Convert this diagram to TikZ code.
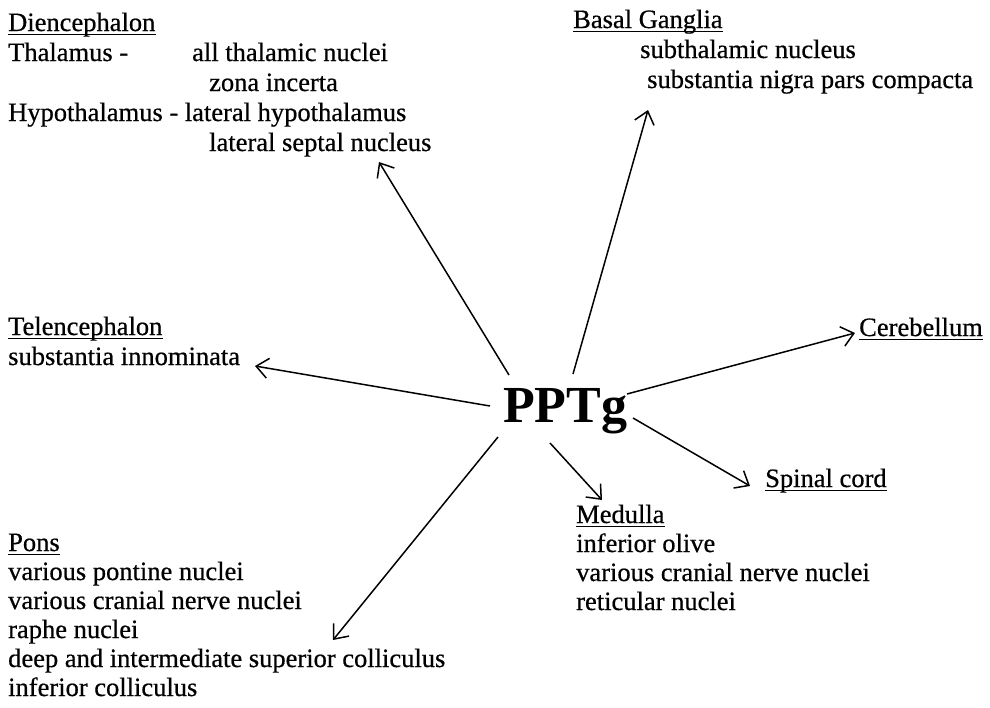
\documentclass[tikz,border=0pt]{standalone}
\usepackage{fontspec}
\setmainfont{Liberation Serif}
\newfontfamily\scanfont{Liberation Serif}[FakeBold=0.6]
\usetikzlibrary{arrows.meta}
\tikzset{
  txt/.style={anchor=base west, inner sep=0pt, font=\scanfont\fontsize{26.5}{30}\selectfont},
  big/.style={anchor=base west, inner sep=0pt, font=\fontsize{52}{60}\selectfont\bfseries},
  ul/.style={line width=1.5pt},
  arr/.style={line width=1.5pt, -{Straight Barb[length=12pt,width=20pt,line width=1.5pt]}}
}
\newcommand{\uline}[1]{\draw[ul] ([yshift=-3.5pt]#1.base west) -- ([yshift=-3.5pt]#1.base east);}
\begin{document}
\begin{tikzpicture}[x=1pt,y=-1pt]
\useasboundingbox (0,0) rectangle (990,707);
% centre
\node[big] (ppt) at (503,422) {PPTg};
% Diencephalon
\node[txt] (dh) at (8,31) {Diencephalon};
\node[txt] (d1) at (8,61) {Thalamus -};
\node[txt] (d2) at (192,61) {all thalamic nuclei};
\node[txt] (d3) at (209,91) {zona incerta};
\node[txt] (d4) at (8,121) {Hypothalamus - lateral hypothalamus};
\node[txt] (d5) at (209,151) {lateral septal nucleus};
\uline{dh}
% Basal Ganglia
\node[txt] (bh) at (573,28) {Basal Ganglia};
\node[txt] (b1) at (640,58) {subthalamic nucleus};
\node[txt] (b2) at (647,88) {substantia nigra pars compacta};
\uline{bh}
% Telencephalon
\node[txt] (th) at (8,335) {Telencephalon};
\node[txt] (t1) at (8,365) {substantia innominata};
\uline{th}
% Cerebellum
\node[txt] (ch) at (859,336) {Cerebellum};
\uline{ch}
% Spinal cord
\node[txt] (sh) at (765,487) {Spinal cord};
\uline{sh}
% Medulla
\node[txt] (mh) at (576,523) {Medulla};
\node[txt] (m1) at (576,552) {inferior olive};
\node[txt] (m2) at (576,581) {various cranial nerve nuclei};
\node[txt] (m3) at (576,610) {reticular nuclei};
\uline{mh}
% Pons
\node[txt] (ph) at (8,551) {Pons};
\node[txt] (p1) at (8,580) {various pontine nuclei};
\node[txt] (p2) at (8,609) {various cranial nerve nuclei};
\node[txt] (p3) at (8,638) {raphe nuclei};
\node[txt] (p4) at (8,667) {deep and intermediate superior colliculus};
\node[txt] (p5) at (8,696) {inferior colliculus};
\uline{ph}
% arrow ends
\coordinate (dS) at (509,375); \coordinate (dT) at (379,162);
\coordinate (bS) at (573,374); \coordinate (bT) at (648,110);
\coordinate (tS) at (490,406); \coordinate (tT) at (255,366);
\coordinate (cS) at (627,394); \coordinate (cT) at (855,333);
\coordinate (sS) at (633,418); \coordinate (sT) at (750,486);
\coordinate (mS) at (550,443); \coordinate (mT) at (602,500);
\coordinate (pS) at (498,437); \coordinate (pT) at (333,640);
\draw[arr] (dS) -- (dT);
\draw[arr] (bS) -- (bT);
\draw[arr] (tS) -- (tT);
\draw[arr] (cS) -- (cT);
\draw[arr] (sS) -- (sT);
\draw[arr] (mS) -- (mT);
\draw[arr] (pS) -- (pT);
\end{tikzpicture}
\end{document}
